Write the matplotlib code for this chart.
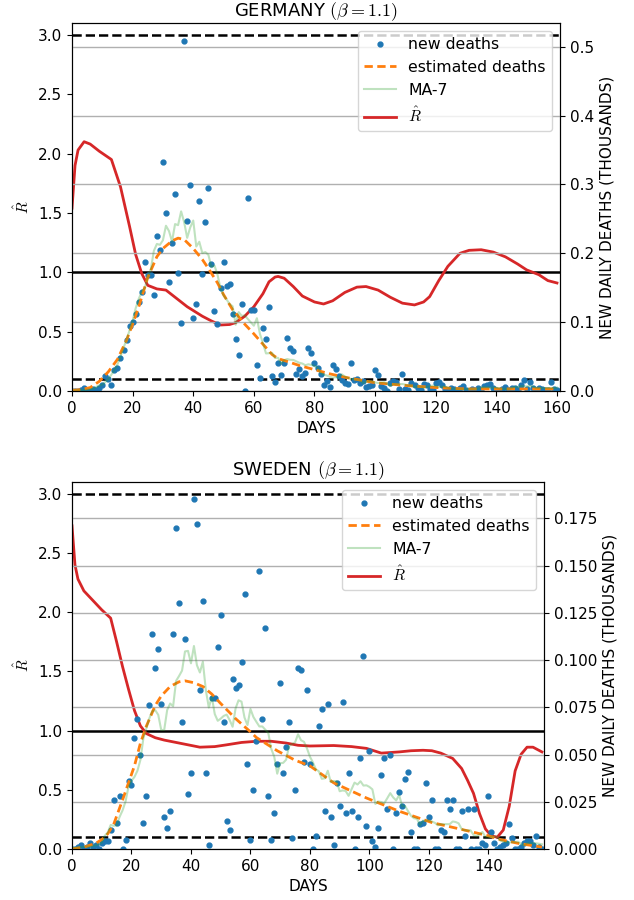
import matplotlib
matplotlib.use("Agg")
import matplotlib.pyplot as plt
import numpy as np
import pandas as pd

plt.rcParams['mathtext.fontset'] = 'cm'
plt.rcParams['font.size'] = 11

# ---------------- GERMANY ----------------
de_new = [0, 0, 0, 1, 4, 2, 1, 3, 2, 4, 8, 22, 17, 9, 30, 33, 48, 60, 74, 95,
          100, 112, 129, 144, 187, 168, 168, 139, 225, 205, 332, 258, 159, 215, 286, 171, 99, 509, 247, 299,
          106, 126, 276, 170, 245, 295, 184, 116, 98, 150, 188, 152, 155, 112, 75, 53, 126, 0, 281, 117,
          117, 38, 19, 92, 76, 122, 22, 13, 40, 23, 40, 77, 63, 58, 24, 32, 22, 26, 62, 55,
          41, 34, 25, 9, 14, 6, 38, 32, 22, 16, 12, 10, 40, 16, 18, 11, 14, 6, 7, 9,
          30, 23, 7, 5, 0, 11, 14, 13, 3, 24, 3, 2, 12, 8, 4, 2, 10, 8, 3, 1,
          12, 13, 8, 3, 0, 5, 3, 2, 4, 7, 2, 0, 3, 1, 5, 2, 7, 8, 10, 5,
          1, 0, 3, 6, 2, 5, 4, 1, 8, 16, 3, 13, 4, 2, 5, 3, 1, 2, 13, 3, 2]

de_est_days = [0, 3, 6, 9, 12, 15, 18, 20, 22, 25, 28, 30, 33, 35, 37, 40, 43, 45, 48, 50,
               53, 55, 57, 60, 63, 66, 68, 71, 75, 80, 85, 90, 95, 100, 110, 120, 130, 140, 150, 160]
de_est = [1, 2, 5, 14, 28, 46, 74, 97, 122, 165, 195, 207, 218, 222, 220, 207, 191, 178, 157, 140,
          118, 108, 97, 83, 68, 53, 47, 43, 37, 31, 25, 20, 16, 12, 8, 5, 3, 3, 3, 3]

de_r_days = [0, 1, 2, 4, 6, 9, 13, 16, 19, 21, 23, 25, 28, 31, 35, 38, 43, 46, 49, 52,
             54, 57, 60, 63, 65, 67, 68, 70, 73, 76, 80, 83, 86, 90, 94, 97, 101, 105, 109, 113,
             116, 118, 121, 124, 128, 131, 135, 139, 143, 147, 150, 154, 157, 160]
de_r = [1.54, 1.90, 2.03, 2.10, 2.08, 2.02, 1.95, 1.72, 1.385, 1.15, 0.99, 0.89, 0.86, 0.85, 0.77, 0.71, 0.63, 0.59, 0.556, 0.56,
        0.576, 0.63, 0.71, 0.82, 0.92, 0.96, 0.965, 0.95, 0.88, 0.80, 0.75, 0.733, 0.76, 0.83, 0.875, 0.88, 0.85, 0.79, 0.74, 0.725,
        0.75, 0.795, 0.93, 1.05, 1.16, 1.185, 1.19, 1.17, 1.13, 1.07, 1.02, 0.98, 0.93, 0.91]

# ---------------- SWEDEN ----------------
se_new = [0, 0, 1, 2, 0, 1, 3, 1, 2, 0, 3, 4, 4, 10, 26, 14, 28, 0, 5, 36,
          34, 59, 69, 50, 14, 28, 76, 114, 96, 106, 77, 17, 11, 20, 114, 170, 130, 67, 111, 29,
          40, 185, 172, 84, 131, 40, 2, 80, 80, 107, 124, 67, 15, 10, 90, 85, 87, 99, 135, 45,
          5, 31, 57, 147, 69, 117, 28, 5, 19, 45, 88, 40, 54, 67, 6, 31, 96, 95, 46, 84,
          45, 0, 7, 65, 74, 20, 77, 17, 2, 35, 23, 78, 19, 40, 20, 0, 17, 48, 102, 12,
          52, 4, 1, 11, 39, 48, 21, 50, 0, 19, 30, 23, 37, 41, 9, 0, 0, 13, 14, 35,
          17, 26, 0, 0, 10, 9, 26, 21, 26, 0, 0, 20, 7, 21, 0, 21, 0, 0, 3, 2,
          28, 9, 3, 0, 1, 2, 3, 13, 6, 0, 0, 1, 3, 4, 4, 2, 7, 1, 0]

se_est_days = [0, 4, 8, 10, 12, 14, 17, 19, 21, 23, 25, 28, 30, 33, 36, 38, 41, 44, 47, 50,
               55, 60, 62, 65, 69, 75, 80, 88, 99, 110, 121, 132, 140, 144, 150, 158]
se_est = [0, 1, 3, 5, 8, 13, 26, 35, 44, 56, 65, 76, 81, 86, 88.5, 89, 88, 86, 82, 77,
          69, 62, 59, 56, 52, 47, 44, 35, 27, 20, 14, 10, 7, 5, 3, 1]

se_r_days = [0, 1, 2, 4, 7, 10, 13, 15, 17, 19, 21, 23, 25, 28, 31, 35, 39, 43, 48, 52,
             57, 62, 67, 72, 76, 80, 88, 94, 99, 104, 110, 114, 118, 121, 124, 128, 131, 133, 135, 137,
             139, 141, 143, 145, 147, 149, 151, 153, 155, 158]
se_r = [2.73, 2.40, 2.28, 2.18, 2.10, 2.02, 1.95, 1.75, 1.54, 1.35, 1.17, 1.04, 0.975, 0.94, 0.92, 0.90, 0.88, 0.86, 0.865, 0.88,
        0.90, 0.91, 0.91, 0.895, 0.876, 0.87, 0.874, 0.865, 0.85, 0.81, 0.82, 0.83, 0.834, 0.83, 0.81, 0.765, 0.68, 0.58, 0.47, 0.30,
        0.17, 0.11, 0.10, 0.16, 0.36, 0.66, 0.80, 0.86, 0.86, 0.82]

panels = [
    ("GERMANY", de_new, de_est_days, de_est, de_r_days, de_r, 161,
     [72 / 634, 509 / 900, 488 / 634, 368 / 900]),
    ("SWEDEN", se_new, se_est_days, se_est, se_r_days, se_r, 158.7,
     [72 / 634, 51 / 900, 472 / 634, 367 / 900]),
]

fig = plt.figure(figsize=(6.34, 9), dpi=100)

for name, new, est_days, est, r_days, r, xmax, pos in panels:
    ax = fig.add_axes(pos)
    ax2 = ax.twinx()

    new = np.array(new) / 1000.0
    days = np.arange(len(new))
    ma7 = pd.Series(new).rolling(7, center=True, min_periods=1).mean()

    ax.axhline(3.0, color='k', ls='--', lw=1.8)
    ax.axhline(0.1, color='k', ls='--', lw=1.8)
    ax.axhline(1.0, color='k', ls='-', lw=1.8)
    lr, = ax.plot(r_days, r, color='tab:red', lw=2, label=r'$\hat{R}$')

    ax2.grid(axis='y', color='#b0b0b0', lw=1)
    ld, = ax2.plot(days, new, 'o', color='tab:blue', ms=3.5, label='new deaths')
    le, = ax2.plot(est_days, np.array(est) / 1000.0, '--', color='tab:orange', lw=2,
                   dashes=(3, 1.6), label='estimated deaths')
    lm, = ax2.plot(days, ma7, color='tab:green', alpha=0.3, lw=1.5, label='MA-7')

    ax.set_xlim(0, xmax)
    ax.set_ylim(0, 3.1)
    ax2.set_ylim(0, new.max() * 1.05)
    ax.set_ylabel(r'$\hat{R}$')
    ax.set_xlabel('DAYS')
    ax2.set_ylabel('NEW DAILY DEATHS (THOUSANDS)')
    ax.set_title(name + r' $(\beta=1.1)$', fontsize=13, pad=4)

    ax2.legend(handles=[ld, le, lm, lr], loc='upper right', fontsize=11.3)

fig.savefig('out.png', dpi=100)
